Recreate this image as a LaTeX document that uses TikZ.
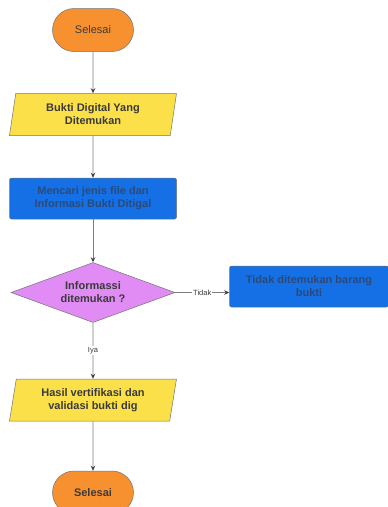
\documentclass[tikz,border=0pt]{standalone}
\usepackage{fontspec}
\setmainfont{Liberation Sans}
\usetikzlibrary{arrows.meta,shapes,positioning}
\definecolor{termfill}{HTML}{F7912F}
\definecolor{iofill}{HTML}{FBE04A}
\definecolor{procfill}{HTML}{1470E4}
\definecolor{decfill}{HTML}{E08CF4}
\definecolor{procText}{HTML}{2B4A7C}
\definecolor{mainText}{HTML}{3A3A3A}

\begin{document}
\begin{tikzpicture}[font=\fontsize{11}{13}\selectfont\bfseries, ->, >={Stealth[length=5pt, width=4.5pt, color=black!75]}, x=1pt, y=1pt]
    \tikzstyle{box}  = [draw=black!55, line width=0.5pt, align=center, text=mainText, inner sep=2pt]
    \tikzstyle{term} = [box, rounded rectangle, fill=termfill, minimum width=85pt, minimum height=43pt]
    \tikzstyle{io}   = [box, trapezium, trapezium left angle=76, trapezium right angle=104, trapezium stretches body, fill=iofill, minimum width=167pt, minimum height=42pt]
    \tikzstyle{proc} = [box, rectangle, rounded corners=2pt, fill=procfill, text=procText, minimum height=41pt]
    \tikzstyle{dec}  = [box, diamond, aspect=2.7, fill=decfill, minimum width=164pt, minimum height=60pt]
    \tikzstyle{lbl}  = [pos=0.5, fill=white, font=\fontsize{7.5}{9}\selectfont\mdseries, text=mainText, inner sep=1pt]
    \tikzstyle{flow} = [draw=black!50, line width=0.7pt]

    \useasboundingbox (0,0) rectangle (388,-507);

    \node[term, font=\fontsize{11}{13}\selectfont\mdseries] (start) at (93,-30) {Selesai};
    \node[io,   below=41.5pt of start]           (bukti) {Bukti Digital Yang\\Ditemukan};
    \node[proc, below=42pt of bukti, minimum width=167pt] (cari)  {Mencari jenis file dan\\Informasi Bukti Ditigal};
    \node[dec,  below=43pt of cari]              (info)  {Informassi\\ditemukan ?};
    \node[proc, right=54pt of info, yshift=6pt, minimum width=159pt] (tidak) {Tidak ditemukan barang\\bukti};
    \node[io,   below=56pt of info]              (hasil) {Hasil vertifikasi dan\\validasi bukti dig};
    \node[term, below=49.5pt of hasil]           (end)   {Selesai};

    \draw[flow] (start) -- (bukti);
    \draw[flow] (bukti) -- (cari);
    \draw[flow] (cari)  -- (info);
    \draw[flow] (info)  -- (info.east -| tidak.west) node[lbl] {Tidak};
    \draw[flow] (info)  -- (hasil) node[lbl] {Iya};
    \draw[flow] (hasil) -- (end);
\end{tikzpicture}
\end{document}
